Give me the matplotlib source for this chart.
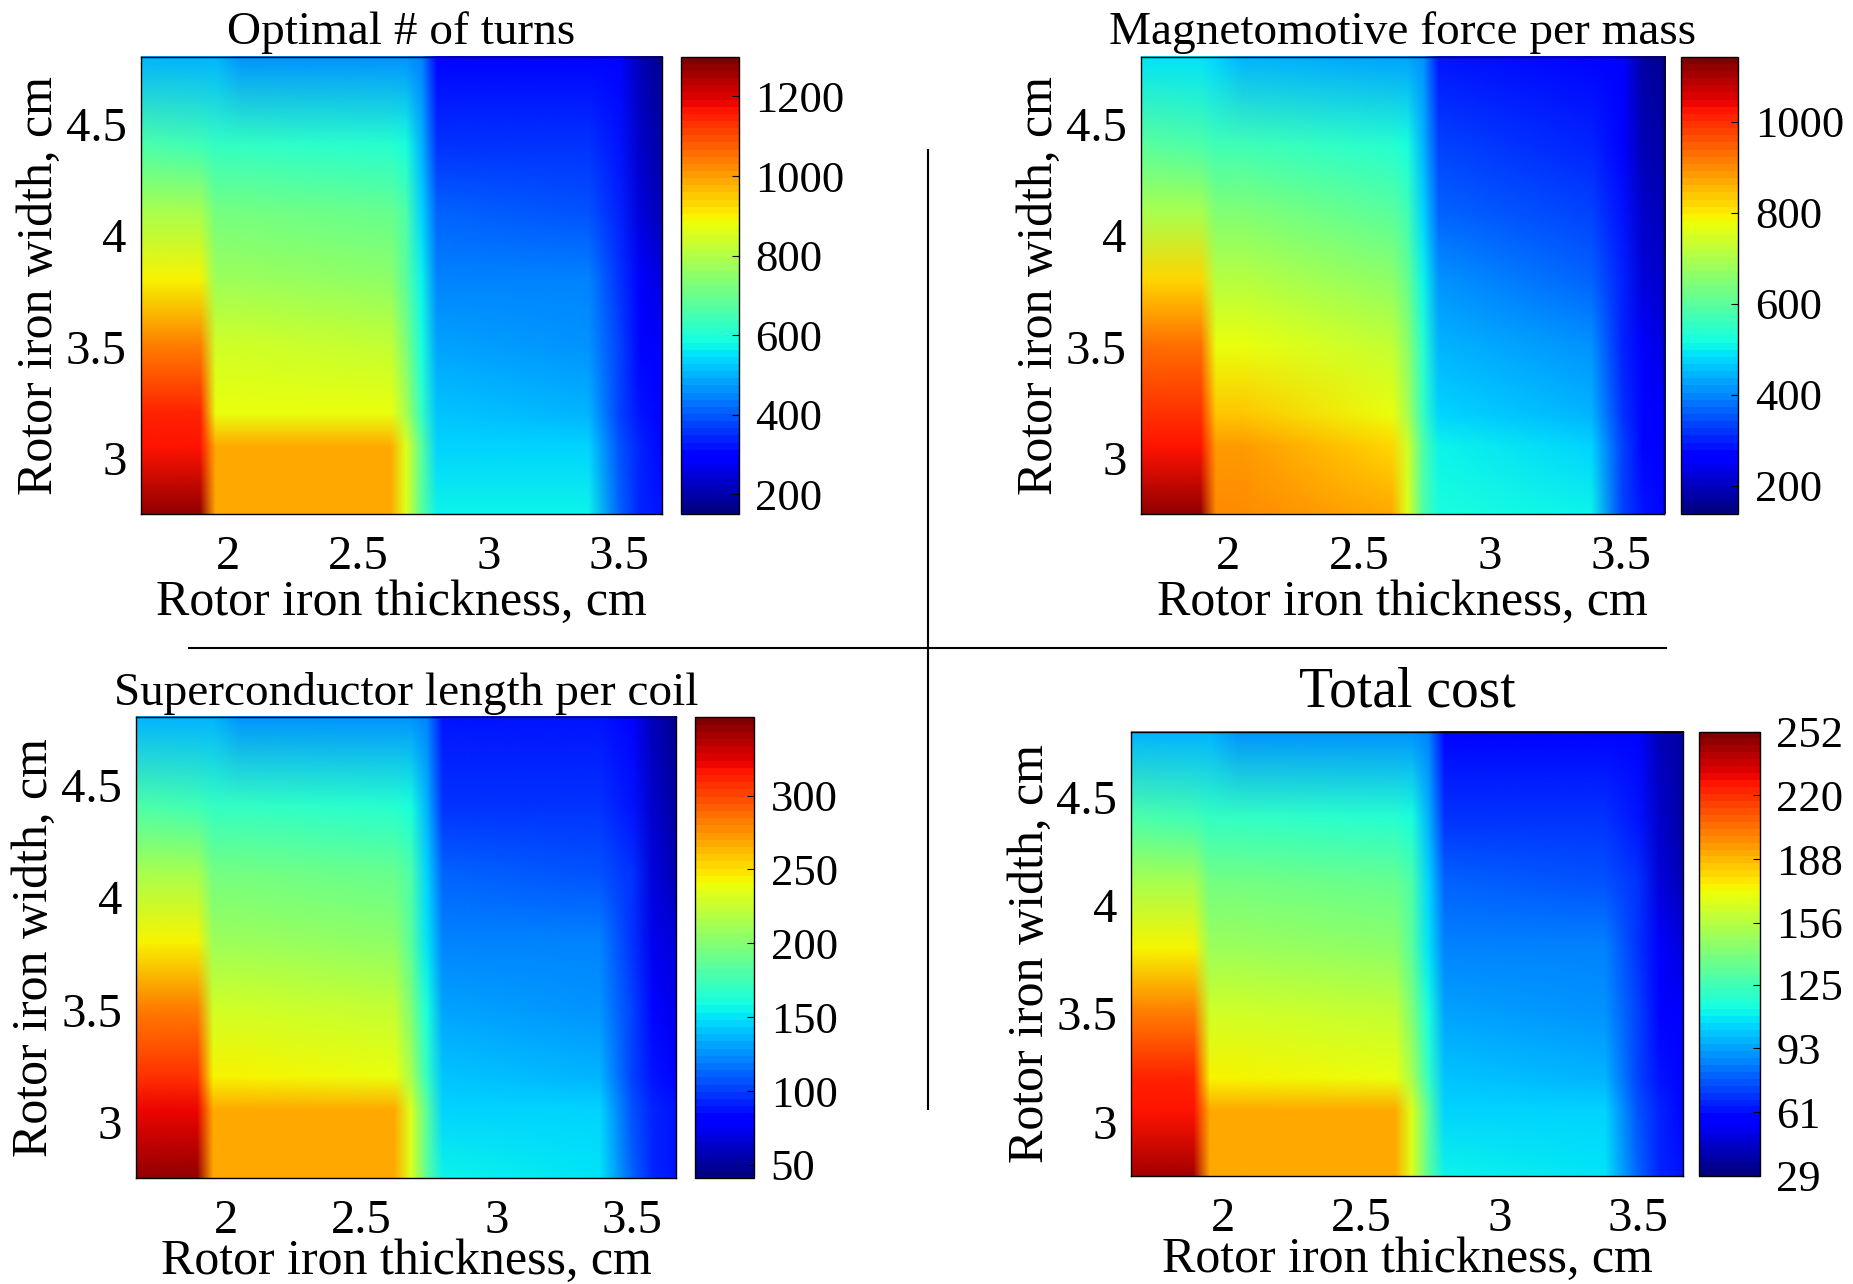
import numpy as np
import matplotlib
matplotlib.use('Agg')
import matplotlib.pyplot as plt
from matplotlib.image import NonUniformImage
from matplotlib.lines import Line2D

plt.rcParams['font.family'] = ['Liberation Serif', 'DejaVu Serif']

# grid nodes (cm)
thickness_cm = np.array([1.665, 1.89, 1.95, 2.05, 2.62, 2.68, 2.74, 2.80, 3.38, 3.50, 3.58, 3.665])
width_cm = np.array([2.75, 3.05, 3.2, 3.5, 3.8, 4.1, 4.4, 4.8])

# rows follow width_cm, columns follow thickness_cm
optimal_turns = np.array([
    [1266, 1266, 990, 990, 990, 863, 679, 576, 564, 403, 346, 323],
    [1174, 1174, 978, 978, 978, 863, 679, 541, 530, 392, 334, 311],
    [1139, 1139, 886, 886, 875, 783, 633, 518, 507, 380, 323, 300],
    [1036, 1036, 840, 840, 829, 725, 587, 484, 472, 369, 300, 277],
    [898, 898, 771, 771, 760, 679, 564, 449, 438, 357, 277, 254],
    [783, 783, 714, 714, 702, 656, 530, 403, 392, 345, 254, 219],
    [668, 650, 633, 622, 610, 587, 495, 357, 357, 323, 231, 196],
    [507, 507, 500, 461, 461, 461, 449, 311, 311, 300, 219, 185],
])

mmf_per_mass = np.array([
    [1113, 1113, 902, 902, 862, 761, 590, 530, 500, 339, 289, 269],
    [1022, 1022, 882, 882, 821, 741, 580, 500, 470, 329, 279, 259],
    [992, 992, 842, 842, 771, 701, 560, 480, 450, 319, 269, 249],
    [932, 932, 771, 771, 721, 661, 540, 450, 409, 309, 249, 228],
    [821, 821, 711, 711, 661, 610, 510, 409, 369, 299, 228, 208],
    [701, 701, 641, 641, 600, 570, 480, 369, 339, 289, 208, 188],
    [600, 580, 570, 570, 540, 520, 450, 329, 309, 279, 188, 178],
    [490, 490, 480, 440, 429, 429, 409, 289, 279, 269, 178, 168],
])

sc_length_per_coil = np.array([
    [344, 344, 269, 269, 269, 234, 185, 156, 153, 110, 94, 88],
    [319, 319, 266, 266, 266, 234, 185, 147, 144, 107, 91, 85],
    [309, 309, 241, 241, 238, 213, 172, 141, 138, 103, 88, 82],
    [281, 281, 228, 228, 225, 197, 160, 131, 128, 100, 82, 75],
    [244, 244, 209, 209, 206, 185, 153, 122, 119, 97, 75, 69],
    [213, 213, 194, 194, 191, 178, 144, 110, 107, 96, 69, 60],
    [181, 175, 172, 169, 166, 160, 135, 97, 97, 88, 63, 53],
    [138, 138, 135, 125, 125, 125, 122, 85, 85, 82, 60, 50],
])

total_cost = np.array([
    [245, 245, 192, 192, 192, 167, 132, 112, 109, 78, 67, 62],
    [227, 227, 190, 190, 190, 167, 132, 105, 103, 76, 65, 60],
    [221, 221, 172, 172, 169, 152, 123, 100, 98, 74, 62, 58],
    [201, 201, 163, 163, 161, 141, 114, 94, 91, 71, 58, 54],
    [174, 174, 149, 149, 147, 132, 109, 87, 85, 69, 54, 49],
    [152, 152, 138, 138, 136, 127, 103, 78, 76, 68, 49, 42],
    [129, 125, 123, 120, 118, 114, 96, 69, 69, 62, 45, 38],
    [98, 98, 96, 89, 89, 89, 87, 60, 60, 58, 42, 36],
])

titles = ['Optimal # of turns', 'Magnetomotive force per mass',
          'Superconductor length per coil', 'Total cost']
color_limits = [(150, 1300), (138, 1143), (41, 353), (29, 252)]
cbar_ticks = [[200, 400, 600, 800, 1000, 1200],
              [200, 400, 600, 800, 1000],
              [50, 100, 150, 200, 250, 300],
              [29, 61, 93, 125, 156, 188, 220, 252]]
x_ticks = [2, 2.5, 3, 3.5]
x_ticklabels = ['2', '2.5', '3', '3.5']
y_ticks = [3, 3.5, 4, 4.5]
y_ticklabels = ['3', '3.5', '4', '4.5']
xlabel = 'Rotor iron thickness, cm'
ylabel = 'Rotor iron width, cm'

W, H = 1853, 1284
fig = plt.figure(figsize=(W / 100, H / 100), dpi=100)

def frac(x0, y0, x1, y1):
    return [x0 / W, 1 - y1 / H, (x1 - x0) / W, (y1 - y0) / H]

ax_boxes = [frac(140.6, 56.7, 661.8, 514.1), frac(1140.5, 56.7, 1664.0, 514.1),
            frac(135.9, 717.3, 676.0, 1178.2), frac(1131.0, 731.5, 1683.0, 1175.9)]
cb_boxes = [frac(680.7, 56.7, 738.6, 514.1), frac(1680.5, 56.7, 1738.4, 514.1),
            frac(694.9, 717.3, 754.0, 1178.2), frac(1699.4, 731.5, 1759.7, 1175.9)]
title_sizes = [34, 34, 34, 40]
title_pads = [9, 9, 9, 18]
xlabel_pads = [0, 0, -3, -3]

fields = [optimal_turns, mmf_per_mass, sc_length_per_coil, total_cost]
cmap = plt.get_cmap('jet', 64)
FS_TICK = 35
FS_LABEL = 36
FS_CB = 32

for i in range(4):
    ax = fig.add_axes(ax_boxes[i])
    vmin, vmax = color_limits[i]
    im = NonUniformImage(ax, interpolation='bilinear', cmap=cmap,
                         extent=(thickness_cm[0], thickness_cm[-1], width_cm[0], width_cm[-1]))
    im.set_data(thickness_cm, width_cm, fields[i])
    im.set_clim(vmin, vmax)
    ax.add_image(im)
    ax.set_xlim(thickness_cm[0], thickness_cm[-1])
    ax.set_ylim(width_cm[0], width_cm[-1])
    ax.set_xticks(x_ticks)
    ax.set_xticklabels(x_ticklabels)
    ax.set_yticks(y_ticks)
    ax.set_yticklabels(y_ticklabels)
    ax.tick_params(direction='in', length=0, labelsize=FS_TICK)
    ax.tick_params(axis='x', pad=15)
    ax.tick_params(axis='y', pad=10)
    ax.set_xlabel(xlabel, fontsize=FS_LABEL, labelpad=xlabel_pads[i])
    ax.set_ylabel(ylabel, fontsize=FS_LABEL, labelpad=2)
    ax.set_title(titles[i], fontsize=title_sizes[i], pad=title_pads[i])
    for s in ax.spines.values():
        s.set_linewidth(1.0)

    cax = fig.add_axes(cb_boxes[i])
    cb = fig.colorbar(im, cax=cax)
    cb.set_ticks(cbar_ticks[i])
    cb.set_ticklabels([str(t) for t in cbar_ticks[i]])
    cax.tick_params(direction='in', length=5, width=0.8, labelsize=FS_CB, pad=12)
    cb.outline.set_linewidth(1.0)

fig.add_artist(Line2D([189 / W, 1666 / W], [1 - 647.6 / H, 1 - 647.6 / H],
                      color='black', lw=1.5, transform=fig.transFigure))
fig.add_artist(Line2D([927.7 / W, 927.7 / W], [1 - 150 / H, 1 - 1108.5 / H],
                      color='black', lw=1.5, transform=fig.transFigure))

fig.savefig('out.png', dpi=100)
